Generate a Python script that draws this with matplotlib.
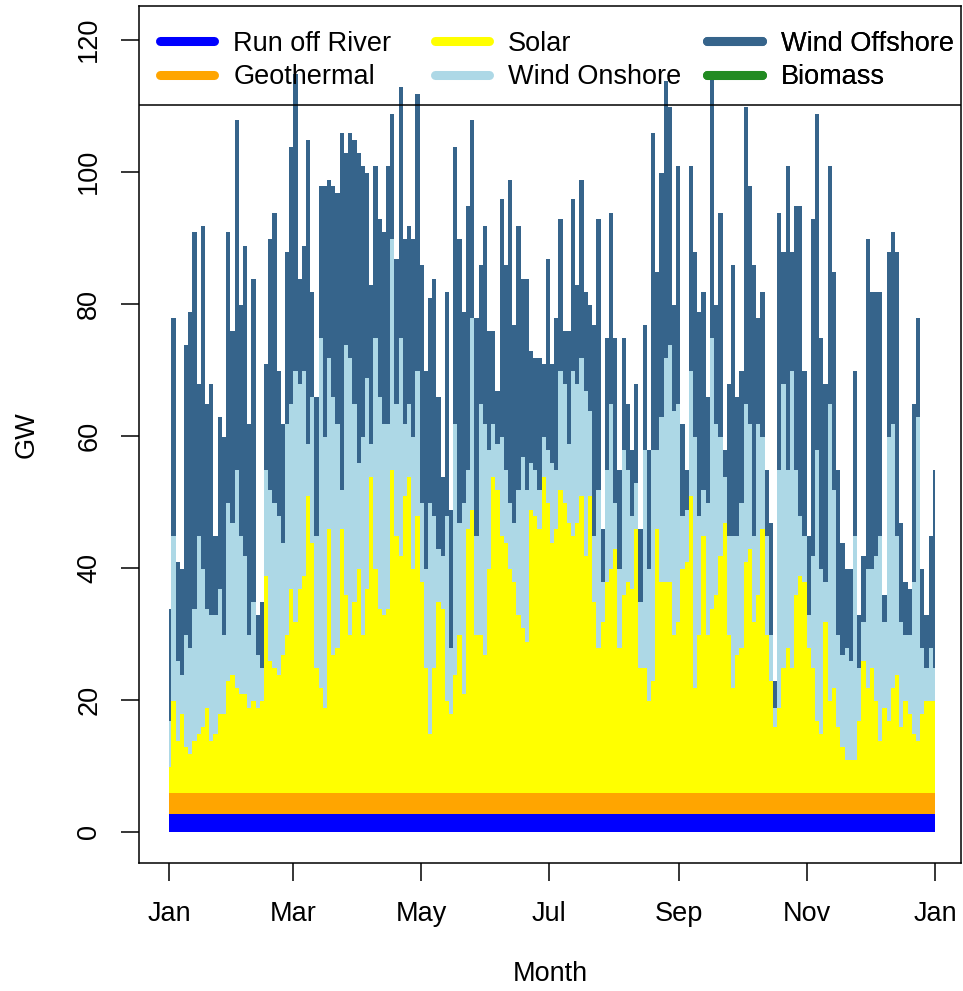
import numpy as np
import pandas as pd
import matplotlib
matplotlib.use("Agg")
import matplotlib.pyplot as plt
import matplotlib.dates as mdates
from matplotlib.lines import Line2D

plt.rcParams['font.family'] = ['Liberation Sans', 'DejaVu Sans']

# GW, every 2 days (Jan 1 -> Dec 31)
run_of_river = 2.7
geothermal = 3.1
biomass = 0.0
solar = [4, 14, 8, 12, 7, 6, 8, 9, 10, 13, 8, 9, 12, 12, 17, 18, 16, 15, 15, 13, 14, 13, 14, 33, 20, 19, 18,
         21, 24, 31, 26, 31, 33, 45, 38, 19, 16, 13, 40, 21, 22, 40, 30, 24, 29, 34, 24, 31, 48, 34, 28, 27, 28, 49, 39, 36, 45, 48,
         34, 42, 32, 19, 9, 19, 29, 28, 14, 12, 18, 24, 15, 40, 43, 24, 24, 21, 34, 48, 46, 39, 38, 34, 32, 27, 25, 23, 43, 42, 40,
         48, 44, 38, 40, 46, 44, 41, 39, 41, 45, 36, 45, 29, 22, 26, 32, 34, 37, 22, 30, 32, 31, 40, 19, 19, 14, 17, 40, 32, 32,
         32, 24, 26, 34, 35, 45, 16, 24, 39, 24, 28, 30, 36, 41, 24, 16, 21, 22, 35, 37, 26, 30, 40, 24, 17, 10, 13, 19, 22, 19, 30,
         33, 32, 22, 19, 11, 9, 26, 14, 16, 10, 7, 5, 5, 5, 11, 20, 16, 19, 14, 8, 13, 11, 16, 18, 10, 14, 12, 9, 8, 12, 14, 14, 14]
wind_onshore = [7, 25, 12, 6, 17, 16, 20, 30, 24, 15, 19, 18, 19, 12, 27, 23, 33, 24, 21, 11, 15, 8, 5, 16, 26, 25, 24,
                17, 32, 28, 38, 31, 31, 8, 22, 20, 53, 41, 26, 39, 34, 6, 38, 42, 30, 16, 30, 32, 5, 35, 32, 29, 28, 35, 20, 33, 11, 11,
                20, 22, 12, 15, 35, 23, 8, 8, 28, 10, 38, 17, 29, 9, 29, 15, 35, 35, 18, 8, 7, 15, 11, 10, 9, 19, 26, 23, 7, 7, 6,
                6, 8, 12, 9, 18, 18, 12, 25, 21, 21, 25, 13, 10, 24, 6, 17, 25, 7, 12, 22, 17, 11, 7, 10, 33, 20, 35, 12, 25, 34,
                36, 34, 33, 8, 8, 19, 38, 18, 7, 20, 41, 26, 18, 7, 15, 23, 18, 22, 24, 19, 13, 26, 14, 15, 7, 3, 36, 43, 27, 45, 19,
                9, 7, 5, 17, 41, 25, 6, 45, 30, 14, 14, 17, 15, 34, 8, 6, 18, 15, 22, 31, 13, 43, 40, 21, 16, 10, 12, 23, 49, 10, 5, 8, 5]
wind_offshore = [17, 33, 15, 16, 44, 51, 57, 23, 52, 31, 35, 12, 26, 30, 41, 29, 53, 35, 47, 32, 49, 6, 10, 16, 38, 44, 22,
                 18, 26, 39, 45, 16, 19, 46, 16, 21, 23, 38, 27, 32, 35, 54, 29, 34, 40, 47, 41, 31, 24, 26, 27, 29, 39, 19, 22, 38, 28, 27,
                 30, 42, 36, 30, 31, 36, 23, 12, 34, 21, 42, 43, 29, 40, 30, 33, 21, 30, 18, 14, 8, 36, 31, 49, 30, 40, 27, 32, 17, 17, 20,
                 11, 29, 15, 23, 23, 8, 17, 26, 15, 27, 15, 16, 32, 41, 8, 20, 29, 25, 15, 17, 10, 10, 15, 11, 19, 18, 48, 27, 37, 42,
                 36, 16, 36, 14, 6, 31, 28, 31, 30, 16, 40, 18, 34, 4, 23, 41, 21, 20, 45, 36, 41, 16, 22, 10, 17, 4, 39, 20, 46, 18, 40,
                 47, 25, 12, 51, 51, 35, 30, 36, 33, 25, 17, 12, 14, 25, 8, 10, 50, 42, 40, 37, 4, 28, 29, 43, 15, 8, 7, 27, 15, 12, 8, 17, 30]

labels = ['Run off River', 'Geothermal', 'Solar', 'Wind Onshore', 'Wind Offshore', 'Biomass']
colors = ['blue', 'orange', 'yellow', 'lightblue', '#36648B', 'forestgreen']

n = len(solar)
t = pd.date_range('2015-01-01', '2016-01-01', periods=n)
layers = np.vstack([np.full(n, run_of_river), np.full(n, geothermal), solar,
                    wind_onshore, wind_offshore, np.full(n, biomass)])
tops = np.cumsum(layers, axis=0)

fs = 19.5
fig = plt.figure(figsize=(9.63, 9.91), dpi=100)
ax = fig.add_axes([0.14465, 0.12947, 0.85327, 0.86448])

# draw like R: highest cumulative polygon first, lower ones on top
for k in range(5, -1, -1):
    ax.fill_between(t, 0, tops[k], step='mid', color=colors[k], lw=0)

t0 = mdates.date2num(pd.Timestamp('2015-01-01'))
ax.set_xlim(t0 - 14.3, t0 + 377.4)
ax.set_ylim(-4.7, 125.1)

ax.set_xticks(pd.to_datetime(['2015-01-01', '2015-03-01', '2015-05-01', '2015-07-01',
                              '2015-09-01', '2015-11-01', '2016-01-01']))
ax.xaxis.set_major_formatter(mdates.DateFormatter('%b'))
ax.set_yticks(range(0, 121, 20))
ax.tick_params(direction='out', length=12.7, width=1.1, labelsize=fs, pad=14)
ax.tick_params(axis='x', pad=15)
ax.tick_params(axis='y', labelrotation=90)
for lab in ax.get_yticklabels():
    lab.set_va('center')
for s in ax.spines.values():
    s.set_linewidth(1.1)

ax.set_xlabel('Month', fontsize=fs)
ax.set_ylabel('GW', fontsize=fs)
ax.xaxis.label.set_va('center')
ax.yaxis.label.set_va('center')
ax.xaxis.set_label_coords(0.5, -0.130)
ax.yaxis.set_label_coords(-0.137, 0.5)

# legend: three columns of two, with a bottom frame line across the axes
handles = [Line2D([], [], color=c, lw=6.5, solid_capstyle='round') for c in colors]
xs = [0.0246, 0.3593, 0.6914]
for j in range(3):
    leg = ax.legend(handles[2 * j:2 * j + 2], labels[2 * j:2 * j + 2], loc='upper left',
                    bbox_to_anchor=(xs[j], 0.9712), frameon=False, fontsize=fs,
                    borderpad=0, borderaxespad=0, handlelength=2.0, handletextpad=0.72,
                    labelspacing=0.28)
    leg.set_zorder(5)
    ax.add_artist(leg)
ax.plot([0, 1], [0.8841, 0.8841], transform=ax.transAxes, color='black', lw=1.1, zorder=6)

fig.savefig('out.png', dpi=100)
